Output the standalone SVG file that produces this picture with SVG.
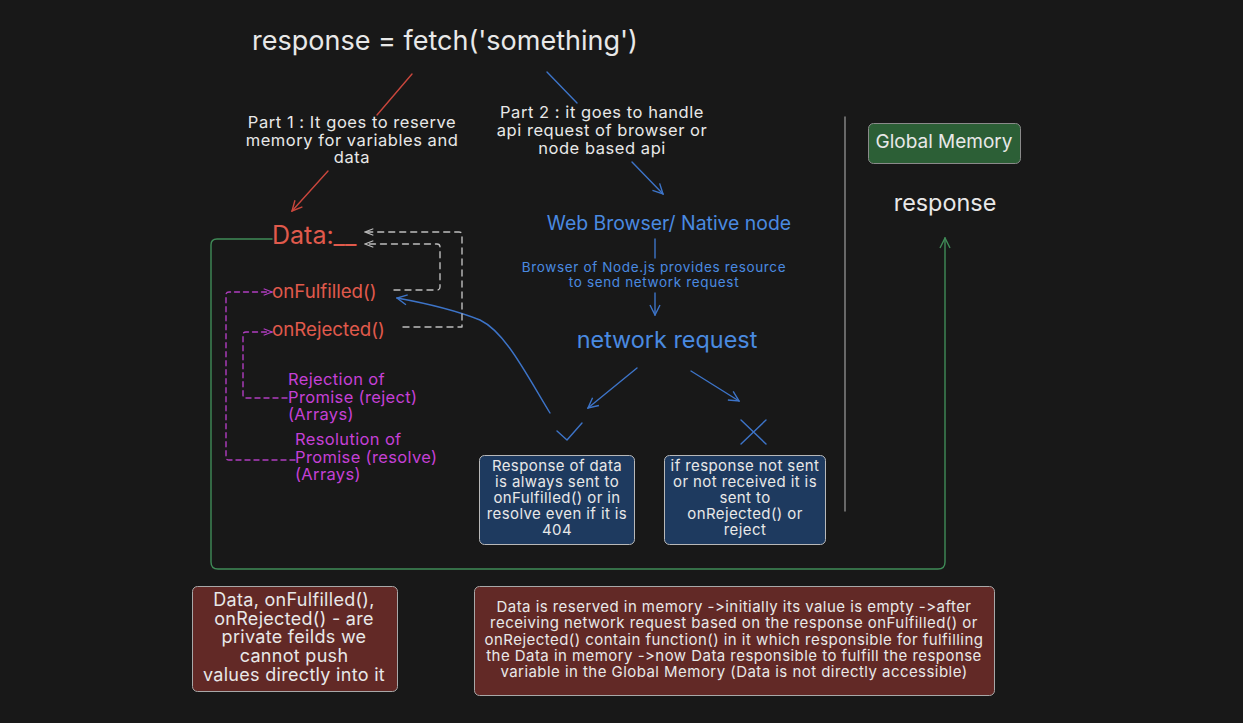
<svg xmlns="http://www.w3.org/2000/svg" width="1243" height="723" viewBox="0 0 1243 723">
<defs>
<style>
text{font-family:Inter,"Noto Sans","Liberation Sans",sans-serif;font-feature-settings:"calt" 0,"liga" 0;font-variant-ligatures:none}
.w{fill:#e8e8e8}
.r{fill:#e05a4c}
.b{fill:#4a8ae0}
.p{fill:#c540d6}
.c{text-anchor:middle}
.ln{fill:none;stroke-width:1.4;stroke-linecap:round;stroke-linejoin:round}
</style>
<marker id="arR" viewBox="0 0 12 12" refX="11" refY="6" markerWidth="12" markerHeight="12" markerUnits="userSpaceOnUse" orient="auto"><path d="M1,1 L11,6 L1,11" fill="none" stroke="#c9463c" stroke-width="1.4"/></marker>
<marker id="arB" viewBox="0 0 12 12" refX="11" refY="6" markerWidth="12" markerHeight="12" markerUnits="userSpaceOnUse" orient="auto"><path d="M1,1 L11,6 L1,11" fill="none" stroke="#3d74c8" stroke-width="1.4"/></marker>
<marker id="arG" viewBox="0 0 12 12" refX="11" refY="6" markerWidth="12" markerHeight="12" markerUnits="userSpaceOnUse" orient="auto"><path d="M1,1 L11,6 L1,11" fill="none" stroke="#3f8b57" stroke-width="1.4"/></marker>
<marker id="arW" viewBox="0 0 12 12" refX="11" refY="6" markerWidth="10" markerHeight="10" markerUnits="userSpaceOnUse" orient="auto"><path d="M1,2 L11,6 L1,10" fill="none" stroke="#bdbdbd" stroke-width="1.4"/></marker>
<marker id="arP" viewBox="0 0 12 12" refX="11" refY="6" markerWidth="10" markerHeight="10" markerUnits="userSpaceOnUse" orient="auto"><path d="M1,2 L11,6 L1,10" fill="none" stroke="#b03cc0" stroke-width="1.4"/></marker>
</defs>
<rect width="1243" height="723" fill="#181818"/>

<g id="connectors">
<path class="ln" d="M412,74 L377,115" stroke="#c9463c"/>
<path class="ln" d="M328,171 L292,211" stroke="#c9463c" marker-end="url(#arR)"/>
<path class="ln" d="M547,72 L577,103" stroke="#3d74c8"/>
<path class="ln" d="M632,162 L663,194" stroke="#3d74c8" marker-end="url(#arB)"/>
<path class="ln" d="M655,239 L655,258" stroke="#3d74c8"/>
<path class="ln" d="M655,293 L655,315" stroke="#3d74c8" marker-end="url(#arB)"/>
<path class="ln" d="M637,368 L588,408" stroke="#3d74c8" marker-end="url(#arB)"/>
<path class="ln" d="M691,371 L739,401" stroke="#3d74c8" marker-end="url(#arB)"/>
<path class="ln" d="M550,413 C525,372 505,332 480,320 C455,310 430,304 397,298" stroke="#3d74c8" marker-end="url(#arB)"/>
<path class="ln" d="M557,431 L567,440 L582,423" stroke="#3d74c8"/>
<path class="ln" d="M741,420 L766,444 M766,420 L741,444" stroke="#3d74c8"/>
<path class="ln" d="M272,239 L217,239 Q211,239 211,245 L211,562 Q211,569 218,569 L938,569 Q945,569 945,562 L945,238" stroke="#3f8b57" marker-end="url(#arG)"/>
<path class="ln" d="M403,327 L462,327 L462,235 Q462,232 459,232 L365,232" stroke="#bdbdbd" stroke-dasharray="6 5" marker-end="url(#arW)"/>
<path class="ln" d="M394,290 L437,290 Q440,290 440,287 L440,247 Q440,244 437,244 L365,244" stroke="#bdbdbd" stroke-dasharray="6 5" marker-end="url(#arW)"/>
<path class="ln" d="M287,398 L246,398 Q243,398 243,395 L243,335 Q243,332 246,332 L272,332" stroke="#b03cc0" stroke-dasharray="5 4" marker-end="url(#arP)"/>
<path class="ln" d="M295,460 L229,460 Q226,460 226,457 L226,295 Q226,292 229,292 L272,292" stroke="#b03cc0" stroke-dasharray="5 4" marker-end="url(#arP)"/>
<path class="ln" d="M845,117 L845,511" stroke="#8a8a8a" stroke-width="2"/>
</g>

<g id="title"><text class="w c" x="445" y="50" font-size="27">response = fetch('something')</text></g>

<g id="part1"><text class="w c" font-size="16.5" letter-spacing="0.55"><tspan x="352" y="128">Part 1 : It goes to reserve</tspan><tspan x="352" y="146">memory for variables and</tspan><tspan x="352" y="163">data</tspan></text></g>

<g id="part2"><text class="w c" font-size="16.5" letter-spacing="0.55"><tspan x="602" y="118">Part 2 : it goes to handle</tspan><tspan x="602" y="136">api request of browser or</tspan><tspan x="602" y="154">node based api</tspan></text></g>

<g id="webbrowser"><text class="b c" x="669" y="230" font-size="19.4">Web Browser/ Native node</text></g>
<g id="provides"><text class="b c" font-size="13.5" letter-spacing="0.65"><tspan x="654" y="272">Browser of Node.js provides resource</tspan><tspan x="654" y="287">to send network request</tspan></text></g>
<g id="network"><text class="b c" x="667" y="348" font-size="23.4">network request</text></g>

<g id="data"><text class="r" x="272" y="244" font-size="25">Data:__</text></g>
<g id="onfulfilled"><text class="r" x="272" y="298" font-size="18.7">onFulfilled()</text></g>
<g id="onrejected"><text class="r" x="272" y="336" font-size="18.7">onRejected()</text></g>

<g id="rejection"><text class="p" font-size="16.5" letter-spacing="0.35"><tspan x="288" y="385">Rejection of</tspan><tspan x="288" y="403">Promise (reject)</tspan><tspan x="288" y="420">(Arrays)</tspan></text></g>
<g id="resolution"><text class="p" font-size="16.5" letter-spacing="0.35"><tspan x="295" y="445">Resolution of</tspan><tspan x="295" y="463">Promise (resolve)</tspan><tspan x="295" y="480">(Arrays)</tspan></text></g>

<g id="box-response">
<rect x="479.5" y="455.5" width="155" height="89" rx="5" fill="#1e3a5f" stroke="#b8b8b8" stroke-width="1"/>
<text class="w c" font-size="15" letter-spacing="0.4"><tspan x="557" y="471">Response of data</tspan><tspan x="557" y="487">is always sent to</tspan><tspan x="557" y="503">onFulfilled() or in</tspan><tspan x="557" y="519">resolve even if it is</tspan><tspan x="557" y="535">404</tspan></text>
</g>
<g id="box-notsent">
<rect x="664.5" y="455.5" width="161" height="89" rx="5" fill="#1e3a5f" stroke="#b8b8b8" stroke-width="1"/>
<text class="w c" font-size="15" letter-spacing="0.4"><tspan x="745" y="471">if response not sent</tspan><tspan x="745" y="487">or not received it is</tspan><tspan x="745" y="503">sent to</tspan><tspan x="745" y="519">onRejected() or</tspan><tspan x="745" y="535">reject</tspan></text>
</g>

<g id="global-memory">
<rect x="868.5" y="123.5" width="152" height="40" rx="5" fill="#2c5f36" stroke="#8a8a8a" stroke-width="1"/>
<text class="w c" x="944" y="148" font-size="19">Global Memory</text>
</g>
<g id="response"><text class="w c" x="945" y="211" font-size="23.4">response</text></g>

<g id="note-private">
<rect x="192.5" y="586.5" width="205" height="105" rx="5" fill="#622926" stroke="#a8a8a8" stroke-width="1"/>
<text class="w c" font-size="18" letter-spacing="0.3"><tspan x="294" y="606">Data, onFulfilled(),</tspan><tspan x="294" y="625">onRejected() - are</tspan><tspan x="294" y="643">private feilds we</tspan><tspan x="294" y="662">cannot push</tspan><tspan x="294" y="681">values directly into it</tspan></text>
</g>
<g id="note-flow">
<rect x="474.5" y="586.5" width="520" height="109" rx="5" fill="#622926" stroke="#a8a8a8" stroke-width="1"/>
<text class="w c" font-size="15" letter-spacing="0.45"><tspan x="734" y="612">Data is reserved in memory -&gt;initially its value is empty -&gt;after</tspan><tspan x="734" y="628">receiving network request based on the response onFulfilled() or</tspan><tspan x="734" y="645">onRejected() contain function() in it which responsible for fulfilling</tspan><tspan x="734" y="661">the Data in memory -&gt;now Data responsible to fulfill the response</tspan><tspan x="734" y="677">variable in the Global Memory (Data is not directly accessible)</tspan></text>
</g>
</svg>
